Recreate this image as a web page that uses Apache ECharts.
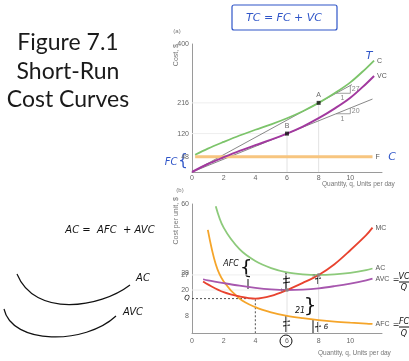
<!DOCTYPE html>
<html>
<head>
<meta charset="utf-8">
<script src="https://cdn.jsdelivr.net/npm/echarts@6/dist/echarts.min.js"></script>
<style>
html,body{margin:0;padding:0;background:#fff;}
#c{width:409px;height:361px;}
</style>
</head>
<body>
<div id="c"></div>
<script>
// ---------- data ----------
var xTicks = [0, 2, 4, 6, 8, 10];
var costTicks = [48, 120, 216, 400];
var unitTicks = [8, 20, 27, 28, 60];

// panel (a): total cost curves, [q, $]
var totalCost = [[0.2,54],[1,73],[2,94],[3,114],[4,132],[5,149],[6,168],[7,190],[8,216],[9,246],[10,280],[11,324],[11.5,348]];
var variableCost = [[0,0],[1,25],[2,46],[3,66],[4,84],[5,101],[6,120],[7,142],[8,168],[9,198],[10,232],[11,276],[11.5,300]];
var fixedCost = [[0.2,48],[11.4,48]];
var ray27 = [[0,0],[10.1,273]];
var ray20 = [[0,0],[11.4,228]];
var tri27 = [[9.1,246],[10,246],[10,270]];
var tri20 = [[9.1,182],[10,182],[10,200]];
var pointsA = [[8,216,'A'],[6,120,'B']];
var runLabels = [[9.5,246,'1'],[9.5,182,'1']];
var riseLabels = [[10,258,'27'],[10,191,'20']];

// panel (b): per-unit cost curves, [q, $ per unit]
var marginalCost = [[0.7,24],[1,22.6],[2,19],[3,17],[4,16],[5,17.3],[6,20],[7,23.3],[8,27],[9,32],[10,38.5],[11,45.5],[11.4,49]];
var averageCost = [[1.5,59],[2,49],[3,39],[4,33.5],[5,30.2],[6,28.2],[7,27.3],[8,27],[9,27.3],[10,28],[11,29.2],[11.4,30]];
var avgVariableCost = [[0.7,25],[1,24.5],[2,23.2],[3,22],[4,21],[5,20.3],[6,20],[7,20.2],[8,20.8],[9,21.8],[10,23],[11,24.5],[11.4,25.3]];
var avgFixedCost = [[1,48],[1.5,32],[2,24],[3,16],[4,12],[5,9.6],[6,8],[7,6.9],[8,6],[9,5.3],[10,4.8],[11,4.4],[11.4,4.2]];
var pointsB = [[8,27,'a'],[6,20,'b']];
var mcMin = [[0,16],[4,16],[4,0]];

// ---------- chart ----------
var chart = echarts.init(document.getElementById('c'), null, {renderer:'canvas'});
var axisGray = '#9a9a9a', labGray = '#666';
var hand = 'italic 10px "DejaVu Sans"';
var blue = '#2f55c8';

function xAx(idx, margin){
  return {type:'value', gridIndex:idx, min:0, max:12,
    axisLine:{lineStyle:{color:axisGray, width:1}}, axisTick:{show:false},
    splitLine:{show:false},
    axisLabel:{customValues:xTicks, fontSize:7, color:labGray, margin:margin, fontFamily:'Liberation Sans'}};
}
function yAx(idx, max, ticks){
  return {type:'value', gridIndex:idx, min:0, max:max,
    axisLine:{show:true, lineStyle:{color:axisGray, width:1}}, axisTick:{show:false},
    splitLine:{show:false},
    axisLabel:{customValues:ticks, fontSize:7, color:labGray, margin:3, fontFamily:'Liberation Sans'}};
}
function curve(name, data, color, width, xi, label, smooth){
  return {name:name, type:'line', xAxisIndex:xi, yAxisIndex:xi, data:data,
    smooth: smooth === false ? false : 0.35, symbol:'none', silent:true,
    lineStyle:{color:color, width:width},
    endLabel: label ? {show:true, formatter:label, color:'#555', fontSize:7, distance:3, fontFamily:'Liberation Sans'} : {show:false},
    z:3};
}
function thin(data, xi, color, w, type){
  return {type:'line', xAxisIndex:xi, yAxisIndex:xi, data:data, smooth:false, symbol:'none', silent:true,
    lineStyle:{color:color, width:w, type:type||'solid'}, z:2};
}
function guides(pts, xi){
  var out = [];
  pts.forEach(function(p){
    out.push(thin([[p[0],0],[p[0],p[1]]], xi, '#e2e2e2', 1));
    out.push(thin([[0,p[1]],[p[0],p[1]]], xi, '#eeeeee', 1));
  });
  return out;
}
function textMarks(data, xi, pos, size, color){
  return {type:'scatter', xAxisIndex:xi, yAxisIndex:xi, data:data, symbol:'circle', symbolSize:1,
    itemStyle:{color:'rgba(0,0,0,0)'}, silent:true, z:6,
    label:{show:true, formatter:function(p){return p.data[2];}, position:pos, distance:1,
      fontSize:size, color:color, fontFamily:'Liberation Sans'}};
}

var series = [];
series = series.concat(guides(pointsA, 0));
series = series.concat(guides(pointsB, 1));
series.push(curve('FC', fixedCost, '#f7c57f', 3, 0, 'F', false));
series.push(thin(ray27, 0, '#7a7a7a', 0.9));
series.push(thin(ray20, 0, '#7a7a7a', 0.9));
series.push(thin(tri27, 0, '#888', 0.8));
series.push(thin(tri20, 0, '#888', 0.8));
series.push(curve('VC', variableCost, '#a2399f', 2, 0, 'VC'));
series.push(curve('TC', totalCost, '#7cc46a', 1.8, 0, 'C'));
series.push({type:'scatter', xAxisIndex:0, yAxisIndex:0, data:pointsA, symbol:'rect', symbolSize:4,
  itemStyle:{color:'#111'}, z:5, silent:true,
  label:{show:true, formatter:function(p){return p.data[2];}, position:'top', distance:2, fontSize:7, color:'#444'}});
series.push(textMarks(runLabels, 0, 'bottom', 7, '#666'));
series.push(textMarks(riseLabels, 0, 'right', 7, '#666'));
// panel (b)
series.push(thin(mcMin, 1, '#222', 0.8, [2,2]));
series.push(curve('AFC', avgFixedCost, '#f5a52a', 1.8, 1, 'AFC'));
series.push(curve('AVC', avgVariableCost, '#a757ae', 1.8, 1, 'AVC'));
series.push(curve('AC', averageCost, '#8dca7b', 1.8, 1, 'AC'));
series.push(curve('MC', marginalCost, '#e8432f', 1.8, 1, 'MC'));
series.push({type:'scatter', xAxisIndex:1, yAxisIndex:1, data:pointsB, symbolSize:4,
  itemStyle:{color:'#888'}, z:5, silent:true,
  label:{show:true, formatter:function(p){return p.data[2];}, position:'left', distance:1, fontSize:6, color:'#777'}});

var graphic = [
  // slide title
  {type:'text', style:{text:'Figure 7.1', x:68, y:43, font:'23px Lato', fill:'#1a1a1a', align:'center', verticalAlign:'middle'}},
  {type:'text', style:{text:'Short-Run', x:68, y:72, font:'23px Lato', fill:'#1a1a1a', align:'center', verticalAlign:'middle'}},
  {type:'text', style:{text:'Cost Curves', x:68, y:100, font:'23px Lato', fill:'#1a1a1a', align:'center', verticalAlign:'middle'}},
  // panel letters & axis names
  {type:'text', style:{text:'(a)', x:177, y:31, font:'6px "Liberation Sans"', fill:'#777', align:'center', verticalAlign:'middle'}},
  {type:'text', style:{text:'(b)', x:180, y:190, font:'6px "Liberation Sans"', fill:'#777', align:'center', verticalAlign:'middle'}},
  {type:'text', x:176, y:44, rotation:Math.PI/2, style:{text:'Cost, $', font:'7px "Liberation Sans"', fill:'#777', align:'right', verticalAlign:'middle'}},
  {type:'text', x:176, y:197, rotation:Math.PI/2, style:{text:'Cost per unit, $', font:'7px "Liberation Sans"', fill:'#777', align:'right', verticalAlign:'middle'}},
  {type:'text', style:{text:'Quantity, q, Units per day', x:322, y:184, font:'6.5px "Liberation Sans"', fill:'#777', align:'left', verticalAlign:'middle'}},
  {type:'text', style:{text:'Quantity, q, Units per day', x:318, y:353, font:'6.5px "Liberation Sans"', fill:'#777', align:'left', verticalAlign:'middle'}},
  // handwritten notes (blue)
  {type:'rect', shape:{x:232, y:5, width:105, height:25, r:2}, style:{fill:'none', stroke:blue, lineWidth:1.2}},
  {type:'text', style:{text:'TC = FC + VC', x:284, y:18, font:'italic 11px "DejaVu Sans"', fill:blue, align:'center', verticalAlign:'middle'}},
  {type:'text', style:{text:'FC', x:171, y:162, font:'italic 10px "DejaVu Sans"', fill:blue, align:'center', verticalAlign:'middle'}},
  {type:'text', style:{text:'{', x:183, y:161, font:'15px "DejaVu Sans"', fill:blue, align:'center', verticalAlign:'middle'}},
  {type:'text', style:{text:'C', x:392, y:157, font:'italic 11px "DejaVu Sans"', fill:blue, align:'center', verticalAlign:'middle'}},
  {type:'text', style:{text:'T', x:369, y:56, font:'italic 11px "DejaVu Sans"', fill:blue, align:'center', verticalAlign:'middle'}},
  // handwritten notes (black)
  {type:'text', style:{text:'AC =  AFC  + AVC', x:110, y:230, font:hand, fill:'#111', align:'center', verticalAlign:'middle'}},
  {type:'bezierCurve', shape:{x1:17, y1:274, cpx1:35, cpy1:318, cpx2:100, cpy2:308, x2:130, y2:285}, style:{stroke:'#111', lineWidth:1.2, fill:'none'}},
  {type:'text', style:{text:'AC', x:143, y:278, font:hand, fill:'#111', align:'center', verticalAlign:'middle'}},
  {type:'bezierCurve', shape:{x1:4, y1:309, cpx1:12, cpy1:345, cpx2:85, cpy2:345, x2:116, y2:316}, style:{stroke:'#111', lineWidth:1.2, fill:'none'}},
  {type:'text', style:{text:'AVC', x:133, y:312, font:hand, fill:'#111', align:'center', verticalAlign:'middle'}},
  {type:'text', style:{text:'AFC', x:231, y:264, font:'italic 8px "DejaVu Sans"', fill:'#111', align:'center', verticalAlign:'middle'}},
  {type:'text', style:{text:'{', x:246, y:269, font:'20px "DejaVu Sans"', fill:'#111', align:'center', verticalAlign:'middle'}},
  {type:'line', shape:{x1:248, y1:279, x2:248, y2:289}, style:{stroke:'#111', lineWidth:1}},
  {type:'text', style:{text:'21', x:300, y:311, font:'italic 8px "DejaVu Sans"', fill:'#111', align:'center', verticalAlign:'middle'}},
  {type:'text', style:{text:'}', x:310, y:307, font:'20px "DejaVu Sans"', fill:'#111', align:'center', verticalAlign:'middle'}},
  {type:'line', shape:{x1:313, y1:320, x2:313, y2:333}, style:{stroke:'#111', lineWidth:1}},
  {type:'line', shape:{x1:286, y1:272, x2:286, y2:291}, style:{stroke:'#111', lineWidth:1.2}},
  {type:'line', shape:{x1:283, y1:279, x2:290, y2:278}, style:{stroke:'#111', lineWidth:1.2}},
  {type:'line', shape:{x1:283, y1:283, x2:290, y2:282}, style:{stroke:'#111', lineWidth:1.2}},
  {type:'line', shape:{x1:286, y1:316, x2:286, y2:332}, style:{stroke:'#111', lineWidth:1.2}},
  {type:'line', shape:{x1:283, y1:322, x2:290, y2:321}, style:{stroke:'#111', lineWidth:1.2}},
  {type:'line', shape:{x1:283, y1:326, x2:290, y2:325}, style:{stroke:'#111', lineWidth:1.2}},
  {type:'line', shape:{x1:318, y1:275, x2:318, y2:284}, style:{stroke:'#111', lineWidth:1.2}},
  {type:'line', shape:{x1:315, y1:279, x2:321, y2:278}, style:{stroke:'#111', lineWidth:1.2}},
  {type:'line', shape:{x1:318, y1:322, x2:318, y2:332}, style:{stroke:'#111', lineWidth:1.2}},
  {type:'line', shape:{x1:315, y1:327, x2:321, y2:326}, style:{stroke:'#111', lineWidth:1.2}},
  {type:'text', style:{text:'6', x:326, y:327, font:'italic 7px "DejaVu Sans"', fill:'#111', align:'center', verticalAlign:'middle'}},
  {type:'circle', shape:{cx:286, cy:341, r:6}, style:{fill:'none', stroke:'#111', lineWidth:1}},
  {type:'text', style:{text:'Q', x:187, y:298, font:'italic 7px "DejaVu Sans"', fill:'#111', align:'center', verticalAlign:'middle'}},
  {type:'text', style:{text:'=', x:396, y:280, font:'italic 8px "DejaVu Sans"', fill:'#111', align:'center', verticalAlign:'middle'}},
  {type:'text', style:{text:'VC', x:404, y:277, font:'italic 8px "DejaVu Sans"', fill:'#111', align:'center', verticalAlign:'middle'}},
  {type:'line', shape:{x1:399, y1:282, x2:409, y2:282}, style:{stroke:'#111', lineWidth:1}},
  {type:'text', style:{text:'Q', x:404, y:288, font:'italic 8px "DejaVu Sans"', fill:'#111', align:'center', verticalAlign:'middle'}},
  {type:'text', style:{text:'=', x:396, y:325, font:'italic 8px "DejaVu Sans"', fill:'#111', align:'center', verticalAlign:'middle'}},
  {type:'text', style:{text:'FC', x:404, y:322, font:'italic 8px "DejaVu Sans"', fill:'#111', align:'center', verticalAlign:'middle'}},
  {type:'line', shape:{x1:399, y1:327, x2:409, y2:327}, style:{stroke:'#111', lineWidth:1}},
  {type:'text', style:{text:'Q', x:404, y:334, font:'italic 8px "DejaVu Sans"', fill:'#111', align:'center', verticalAlign:'middle'}}
];

chart.setOption({
  animation:false,
  backgroundColor:'#fff',
  grid:[
    {left:192, top:44, width:190, height:128},
    {left:192, top:204, width:190, height:129}
  ],
  xAxis:[xAx(0, 3), xAx(1, 5)],
  yAxis:[yAx(0, 400, costTicks), yAx(1, 60, unitTicks)],
  series:series,
  graphic:graphic
});
</script>
</body>
</html>
